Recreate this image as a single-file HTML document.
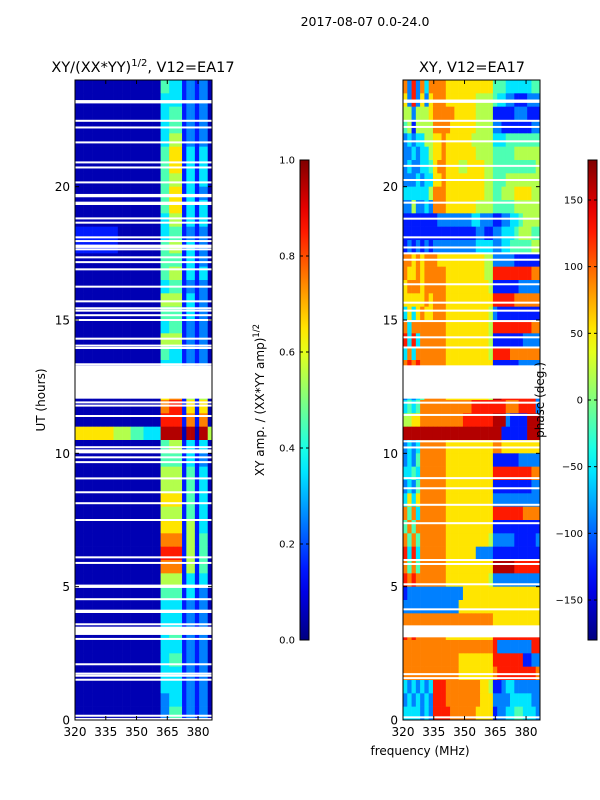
<!DOCTYPE html>
<html><head><meta charset="utf-8"><style>
html,body{margin:0;padding:0;background:#fff;}
svg{display:block;font-family:"DejaVu Sans","Liberation Sans",sans-serif;}
</style></head><body>
<svg id="fig" width="600" height="800" viewBox="0 0 600 800">
<defs>
<linearGradient id="gjet" x1="0" y1="1" x2="0" y2="0"></linearGradient>
</defs>
<text x="365" y="26" font-size="12.5" text-anchor="middle">2017-08-07 0.0-24.0</text>
<text x="143" y="72" font-size="14.5" text-anchor="middle">XY/(XX*YY)<tspan font-size="10" dy="-6">1/2</tspan><tspan dy="6">, V12=EA17</tspan></text>
<text x="472" y="72" font-size="14.5" text-anchor="middle">XY, V12=EA17</text>
<text transform="translate(45,400) rotate(-90)" font-size="12" text-anchor="middle">UT (hours)</text>
<text x="420" y="755" font-size="12" text-anchor="middle">frequency (MHz)</text>
<text transform="translate(264,400) rotate(-90)" font-size="12" text-anchor="middle">XY amp. / (XX*YY amp)<tspan font-size="8.5" dy="-5">1/2</tspan></text>
<g id="left"></g>
<g id="right"></g>
<g id="axes"></g>
<text transform="translate(544,400) rotate(-90)" font-size="12" text-anchor="middle">phase (deg.)</text>
</svg>
<script>
// ---- data ----
const freqMin = 320, freqMax = 386.8, utMin = 0, utMax = 24;
const xTicks = [320, 335, 350, 365, 380];
const yTicks = [0, 5, 10, 15, 20];
const ampTicks = [0.0, 0.2, 0.4, 0.6, 0.8, 1.0];
const phaseTicks = [-150, -100, -50, 0, 50, 100, 150];
// amplitude grid: rows top (23.5-24 UT) to bottom (0-0.5 UT), 32 freq channels, digit d -> 0.05+0.1*d
const ampRows = [
"00000000000000000000443331221220",
"00000000000000000000333331221220",
"00000000000000000000334441221220",
"00000000000000000000334441221220",
"00000000000000000000335551221220",
"00000000000000000000446661331330",
"00000000000000000000446661331330",
"00000000000000000000445551331330",
"00000000000000000000446661331220",
"00000000000000000000446661331330",
"00000000000000000000335551331330",
"11111111110000000000334441221220",
"11111111110000000000445551331220",
"00000000000000000000444441331220",
"00000000000000000000445551331330",
"00000000000000000000334441221220",
"00000000000000000000555551331220",
"00000000000000000000444441331220",
"00000000000000000000334441221220",
"00000000000000000000555551221220",
"00000000000000000000443331221220",
"00000000000000000000333331221220",
"................................",
"00000000000000000000667771551550",
"00000000000000000000778881661660",
"00000000000000000000888881771770",
"66666666655554443333999990990995",
"00000000000000000000445551331330",
"00000000000000000000444441331220",
"00000000000000000000555551441330",
"00000000000000000000555551441330",
"00000000000000000000666661441330",
"00000000000000000000555551441330",
"00000000000000000000666661551330",
"00000000000000000000777771551440",
"00000000000000000000888881551440",
"00000000000000000000777771551440",
"00000000000000000000555551331330",
"00000000000000000000444441331220",
"00000000000000000000333331221220",
"00000000000000000000333331221220",
"00000000000000000000334441221220",
"00000000000000000000333331221220",
"00000000000000000000334441221220",
"00000000000000000000333331221220",
"00000000000000000000333331221220",
"00000000000000000000223331221220",
"00000000000000000000224441221220"
];
// phase grid: digit d -> -180+(d+0.5)*36 deg ; 7 low-freq + 14 mid + 11 high channels
const phaseRows = [
"7282737"+"77766666666666"+"44433333344",
"6282626"+"77766666665555"+"43322111222",
"5525556"+"77777666665555"+"11111222111",
"4515555"+"77776666665555"+"22111111122",
"2323355"+"66766666655555"+"33344444444",
"2232335"+"66766666665555"+"44444555555",
"2322334"+"67766655666655"+"44444444445",
"2223233"+"66766666666655"+"44455555555",
"3333335"+"77766666666655"+"44555666655",
"2252232"+"77766666665555"+"44444555555",
"1111111"+"12222222233222"+"11223345555",
"1111111"+"11111111112211"+"22333455544",
"1212121"+"22222222223333"+"22334444455",
"7767677"+"76666666666655"+"22222111111",
"7667677"+"77766666666655"+"88888888877",
"6777677"+"77766666666665"+"11111122222",
"6666676"+"77766666666666"+"88888777777",
"3636766"+"77766666666665"+"21111111111",
"7377777"+"77766666666665"+"88888888877",
"8383777"+"77766666666665"+"11111112222",
"3737777"+"77766666666665"+"88887777777",
"7878777"+"77766666666666"+"11111122222",
"................................",
"2323477"+"77766666666665"+"99888888882",
"3434777"+"77777777788888"+"88877788882",
"5566777"+"77777778888888"+"99921111999",
"9999999"+"99999999999999"+"99111111999",
"2323777"+"77766666666666"+"77666666666",
"2324777"+"77766666666666"+"11111122222",
"3343777"+"77766666666666"+"88888888877",
"2324777"+"77766666666666"+"11111111122",
"3636777"+"77766666666666"+"22222222222",
"7473777"+"77766666666666"+"88888887777",
"4747777"+"77766666666666"+"11111111111",
"7474777"+"77766666666665"+"22222111112",
"8383777"+"77766666662222"+"11111111111",
"7474777"+"77766666666666"+"99999888888",
"8787777"+"77766666666665"+"22222222222",
"1222222"+"22222226666666"+"66666666666",
"2222222"+"22222266666666"+"66666666666",
"7777777"+"77777777777777"+"66666666666",
"8787777"+"77766666666666"+"88888888888",
"7777777"+"77777777777777"+"82222222288",
"7777777"+"77777766666666"+"88888881122",
"7777777"+"77777766666666"+"78888888887",
"3232323"+"88877777777665"+"11233222222",
"2323232"+"88877777777666"+"22223333322",
"3333232"+"88887777776666"+"12233443332"
];
// flagged (blank) times, UT hours
const ampFlags = [23.21,23.16,22.47,22.22,21.66,20.91,20.72,20.16,19.69,19.64,19.4,19.35,18.81,18.65,18.1,17.96,17.79,17.74,17.65,17.35,17.17,16.9,16.25,15.7,15.44,15.35,15.18,15.0,14.3,14.04,13.95,13.34,11.91,11.79,11.4,10.23,9.85,9.67,9.06,8.54,8.13,7.5,6.1,5.89,5.04,4.99,4.53,4.1,4.05,3.59,3.04,2.09,1.74,1.66,1.51,0.16,0.04];
const ampFlagStart = [12.05, 3.19, 10.0];
const ampFlagEnd = [13.3, 3.5, 10.15];
const phaseFlags = [23.23,23.18,22.47,22.24,21.7,20.78,20.25,19.4,18.8,18.1,17.72,17.5,17.26,16.34,15.65,15.35,14.96,14.35,13.97,11.9,11.44,10.45,10.22,9.07,8.69,8.07,7.38,6.0,5.85,5.09,4.15,1.72,1.57,0.1];
const phaseFlagStart = [12.05, 3.1];
const phaseFlagEnd = [13.3, 3.55];

// ---- layout ----
const NS = "http://www.w3.org/2000/svg";
const P = {top:80, bottom:720, w:137};
const panels = [{x0:75}, {x0:403}];
function yScale(ut){ return P.bottom - (ut-utMin)/(utMax-utMin)*(P.bottom-P.top); }
function xScale(x0, f){ return x0 + (f-freqMin)/(freqMax-freqMin)*P.w; }
function clamp(v){ return Math.max(0, Math.min(1, v)); }
function jet(t){
  const r = clamp(1.5-Math.abs(4*t-3)), g = clamp(1.5-Math.abs(4*t-2)), b = clamp(1.5-Math.abs(4*t-1));
  return 'rgb('+Math.round(r*255)+','+Math.round(g*255)+','+Math.round(b*255)+')';
}
function el(tag, attrs, parent){
  const e = document.createElementNS(NS, tag);
  for (const k in attrs) e.setAttribute(k, attrs[k]);
  parent.appendChild(e); return e;
}
function drawGrid(rows, x0, g, toFrac, cellName){
  const nR = rows.length, nC = rows[0].length;
  const df = (freqMax-freqMin)/nC, dt = (utMax-utMin)/nR;
  rows.forEach((row, i) => {
    const utTop = utMax - i*dt;
    for (let c=0;c<nC;c++){
      const ch = row[c];
      if (ch === '.') continue;
      const xa = xScale(x0, freqMin+c*df), xb = xScale(x0, freqMin+(c+1)*df);
      const ya = yScale(utTop), yb = yScale(utTop-dt);
      const r = el('rect', {x:xa, y:ya, width:xb-xa+0.3, height:yb-ya+0.3, fill:jet(toFrac(+ch))}, g);
      
      
    }
  });
}
function drawFlags(flags, starts, ends, x0, g){
  flags.forEach(u => {
    const r = el('rect', {x:x0, y:yScale(u)-1, width:P.w, height:2, fill:'#fff'}, g);
    
    
  });
  starts.forEach((s, i) => {
    const r = el('rect', {x:x0, y:yScale(ends[i]), width:P.w, height:yScale(s)-yScale(ends[i]), fill:'#fff'}, g);
    
    
  });
}
const gl = document.getElementById('left'), gr = document.getElementById('right'), ga = document.getElementById('axes');
drawGrid(ampRows, 75, gl, d => 0.05+0.1*d, 'amp-cell');
drawFlags(ampFlags, ampFlagStart, ampFlagEnd, 75, gl);
drawGrid(phaseRows, 403, gr, d => (d+0.5)/10, 'phase-cell');
drawFlags(phaseFlags, phaseFlagStart, phaseFlagEnd, 403, gr);

// axes
panels.forEach((p, pi) => {
  const f = el('rect', {x:p.x0, y:P.top, width:P.w, height:P.bottom-P.top, fill:'none', stroke:'#000', 'stroke-width':1}, ga);
  
  
  xTicks.forEach(t => {
    const x = xScale(p.x0, t);
    el('line', {x1:x, x2:x, y1:P.bottom, y2:P.bottom-4, stroke:'#000'}, ga);
    el('line', {x1:x, x2:x, y1:P.top, y2:P.top+4, stroke:'#000'}, ga);
    const tx = el('text', {x:x, y:P.bottom+16, 'font-size':12, 'text-anchor':'middle'}, ga);
    tx.textContent = t;
    
    
  });
  yTicks.forEach(t => {
    const y = yScale(t);
    el('line', {x1:p.x0, x2:p.x0+4, y1:y, y2:y, stroke:'#000'}, ga);
    el('line', {x1:p.x0+P.w, x2:p.x0+P.w-4, y1:y, y2:y, stroke:'#000'}, ga);
    const tx = el('text', {x:p.x0-5, y:y+4.5, 'font-size':12, 'text-anchor':'end'}, ga);
    tx.textContent = t;
    
    
  });
});

// colorbars
const grad = document.getElementById('gjet');
for (let i=0;i<=20;i++){ el('stop', {offset:(i/20), 'stop-color':jet(i/20)}, grad); }
const cbTop = 160, cbBot = 640;
function colorbar(x, ticks, lo, hi, fmt, name){
  const r = el('rect', {x:x, y:cbTop, width:9, height:cbBot-cbTop, fill:'url(#gjet)', stroke:'#000', 'stroke-width':1}, ga);
  
  
  ticks.forEach(t => {
    const y = cbBot - (t-lo)/(hi-lo)*(cbBot-cbTop);
    el('line', {x1:x, x2:x+3, y1:y, y2:y, stroke:'#000'}, ga);
    el('line', {x1:x+9, x2:x+6, y1:y, y2:y, stroke:'#000'}, ga);
    const tx = el('text', {x:x-5, y:y+3.5, 'font-size':10, 'text-anchor':'end'}, ga);
    tx.textContent = fmt(t);
    
    
  });
}
colorbar(300, ampTicks, 0, 1, t => t.toFixed(1), 'amp-colorbar');
colorbar(588, phaseTicks, -180, 180, t => (t<0 ? '\u2212'+(-t) : ''+t), 'phase-colorbar');
</script>
</body></html>
